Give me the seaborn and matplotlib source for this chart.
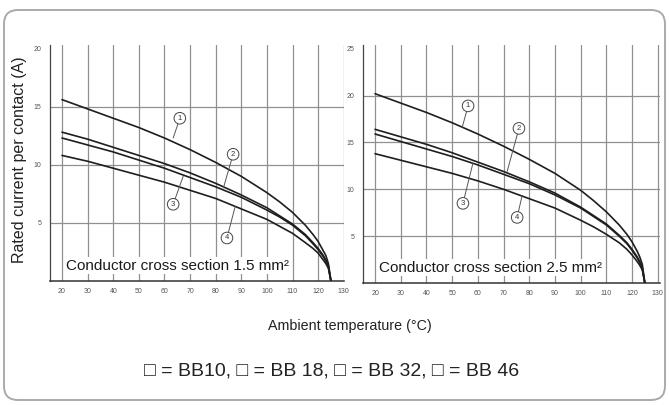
import matplotlib
matplotlib.use("Agg")
import matplotlib.pyplot as plt
import matplotlib.patches as mpatches
import matplotlib.transforms as mtransforms
import numpy as np
import pandas as pd
import seaborn as sns

# ─────────────────────────────────────────
# Data
# ─────────────────────────────────────────
temps = [20, 30, 40, 50, 60, 70, 80, 90, 100, 105, 110, 115, 118, 120, 122, 123, 124, 125]

# conductor cross section 1.5 mm²
s15_c1 = [15.6, 14.8, 14.0, 13.2, 12.3, 11.3, 10.2, 9.0, 7.6, 6.8, 5.9, 4.8, 4.0, 3.4, 2.6, 2.2, 1.5, 0]
s15_c2 = [12.8, 12.2, 11.5, 10.8, 10.1, 9.3, 8.4, 7.4, 6.3, 5.6, 4.9, 4.0, 3.3, 2.8, 2.2, 1.8, 1.3, 0]
s15_c3 = [12.3, 11.7, 11.1, 10.4, 9.7, 8.9, 8.1, 7.2, 6.1, 5.5, 4.8, 3.9, 3.2, 2.7, 2.1, 1.7, 1.2, 0]
s15_c4 = [10.8, 10.3, 9.7, 9.1, 8.5, 7.8, 7.1, 6.2, 5.3, 4.7, 4.1, 3.3, 2.8, 2.4, 1.8, 1.5, 1.1, 0]

# conductor cross section 2.5 mm²
s25_c1 = [20.2, 19.2, 18.2, 17.1, 15.9, 14.6, 13.2, 11.7, 9.9, 8.8, 7.6, 6.2, 5.2, 4.4, 3.4, 2.8, 2.0, 0]
s25_c2 = [16.4, 15.6, 14.8, 13.9, 12.9, 11.9, 10.8, 9.6, 8.1, 7.2, 6.3, 5.1, 4.3, 3.6, 2.8, 2.3, 1.6, 0]
s25_c3 = [15.9, 15.1, 14.3, 13.5, 12.6, 11.6, 10.6, 9.4, 8.0, 7.1, 6.2, 5.0, 4.2, 3.5, 2.7, 2.2, 1.6, 0]
s25_c4 = [13.8, 13.1, 12.4, 11.7, 10.9, 10.0, 9.0, 8.0, 6.7, 6.0, 5.2, 4.3, 3.6, 3.0, 2.3, 1.9, 1.4, 0]

curve_ids = ["1", "2", "3", "4"]
panel_titles = ["Conductor cross section 1.5 mm²", "Conductor cross section 2.5 mm²"]
x_ticks = [20, 30, 40, 50, 60, 70, 80, 90, 100, 110, 120, 130]
y_ticks_15 = [5, 10, 15, 20]
y_ticks_25 = [5, 10, 15, 20, 25]

# circled label annotations: (label xy, curve point xy)
labels_15 = {"1": ((66, 14.0), (63.4, 12.3)), "2": ((86.8, 10.9), (83.0, 8.0)),
             "3": ((63.4, 6.6), (67.3, 9.0)), "4": ((84.4, 3.7), (87.6, 6.4))}
labels_25 = {"1": ((56.2, 18.9), (53.9, 16.6)), "2": ((76.0, 16.5), (71.4, 11.9)),
             "3": ((54.2, 8.5), (58.1, 12.8)), "4": ((75.3, 7.0), (77.2, 9.3))}


def long_frame(curves):
    rows = []
    for cid, vals in zip(curve_ids, curves):
        for t, v in zip(temps, vals):
            rows.append({"temp": t, "current": v, "curve": cid})
    return pd.DataFrame(rows)


df15 = long_frame([s15_c1, s15_c2, s15_c3, s15_c4])
df25 = long_frame([s25_c1, s25_c2, s25_c3, s25_c4])

# ─────────────────────────────────────────
# Style
# ─────────────────────────────────────────
sns.set_style("white")
plt.rcParams["font.family"] = ["Liberation Sans", "DejaVu Sans"]

W, H = 669, 405
fig = plt.figure(figsize=(W / 100, H / 100), dpi=100)

# rounded outer frame (pixel coords)
frame = mpatches.FancyBboxPatch((4, 5), 661, 390,
                                boxstyle="round,pad=0,rounding_size=14",
                                transform=mtransforms.IdentityTransform(),
                                fc="none", ec="#aaaaaa", lw=1.4, zorder=10)
fig.patches.append(frame)


def px_axes(x0, y0, x1, y1):
    # axes from pixel box (top-left origin)
    return fig.add_axes([x0 / W, 1 - y1 / H, (x1 - x0) / W, (y1 - y0) / H])


ax1 = px_axes(50, 45, 344, 281)
ax2 = px_axes(363, 45, 660, 283)

panels = [
    (ax1, df15, (15.3, 130.1), (0, 20.3), y_ticks_15, labels_15, panel_titles[0]),
    (ax2, df25, (15.3, 130.9), (0, 25.4), y_ticks_25, labels_25, panel_titles[1]),
]

for ax, df, xl, yl, yt, labs, title in panels:
    ax.set_facecolor("white")
    for xv in x_ticks:
        ax.axvline(xv, color="#909090", lw=0.9, zorder=1)
    for yv in yt[:-1]:
        ax.axhline(yv, color="#909090", lw=0.9, zorder=1)

    sns.lineplot(data=df, x="temp", y="current", units="curve", estimator=None,
                 color="#1e1e1e", lw=1.2, ax=ax, legend=False, zorder=3)

    ax.set_xlim(*xl)
    ax.set_ylim(*yl)
    ax.set_xticks(x_ticks)
    ax.set_yticks(yt)
    ax.tick_params(axis="both", labelsize=5, colors="#555555", length=3, width=0.6, pad=3)
    ax.tick_params(axis="x", length=0, pad=5)
    ax.set_xlabel("")
    ax.set_ylabel("")
    ax.spines[["top", "right"]].set_visible(False)
    ax.spines["left"].set_color("#444444")
    ax.spines["left"].set_linewidth(0.9)
    ax.spines["bottom"].set_color("#333333")
    ax.spines["bottom"].set_linewidth(1.1)

    for cid, (lxy, cxy) in labs.items():
        ax.plot([lxy[0], cxy[0]], [lxy[1], cxy[1]], color="#555555", lw=0.7, zorder=4)
        ax.text(lxy[0], lxy[1], cid, fontsize=5.5, ha="center", va="center", color="#333333",
                bbox=dict(boxstyle="circle,pad=0.3", fc="white", ec="#444444", lw=0.7),
                zorder=5)

    ax.text(0.055, 0.065, title, transform=ax.transAxes, fontsize=11, color="#1a1a1a",
            ha="left", va="center", zorder=6,
            bbox=dict(boxstyle="square,pad=0.1", fc="white", ec="none"))

fig.text(20 / W, 1 - 160 / H, "Rated current per contact (A)", rotation=90,
         fontsize=11.5, ha="center", va="center", color="#222222")
fig.text(350 / W, 1 - 326 / H, "Ambient temperature (°C)",
         fontsize=10.3, ha="center", va="center", color="#222222")
fig.text(332 / W, 1 - 371 / H, "□ = BB10, □ = BB 18, □ = BB 32, □ = BB 46",
         fontsize=14, ha="center", va="center", color="#222222")

fig.savefig("out.png", dpi=100)
plt.close(fig)
